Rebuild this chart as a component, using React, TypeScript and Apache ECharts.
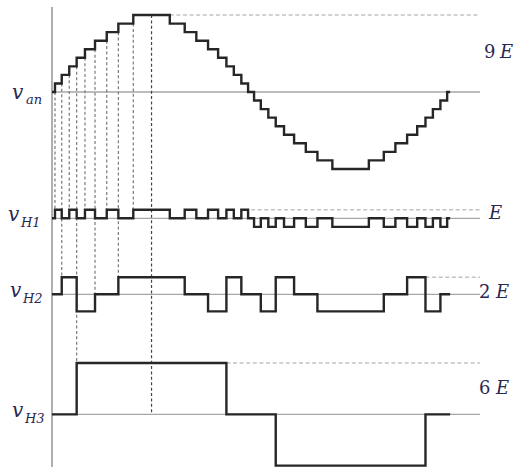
import React, { useEffect, useRef } from "react";
import * as echarts from "echarts";

// Switching angles (degrees) of the 19-level staircase over one fundamental period
const switchAngles = [
  2.7, 8.8, 15.6, 22.3, 29.8, 38.9, 49.5, 60.0, 73.5,
  106.5, 120.0, 130.5, 141.1, 150.2, 157.7, 164.4, 171.2, 177.3,
  182.7, 188.8, 195.6, 202.3, 209.8, 218.9, 229.5, 240.0, 253.5,
  286.5, 300.0, 310.5, 321.1, 330.2, 337.7, 344.4, 351.2, 357.3,
];

// Output levels (in units of E) held between successive switching angles
const vanLevels = [
  0, 1, 2, 3, 4, 5, 6, 7, 8, 9, 8, 7, 6, 5, 4, 3, 2, 1, 0,
  -1, -2, -3, -4, -5, -6, -7, -8, -9, -8, -7, -6, -5, -4, -3, -2, -1, 0,
];
const h1Levels = [
  0, 1, 0, 1, 0, 1, 0, 1, 0, 1, 0, 1, 0, 1, 0, 1, 0, 1, 0,
  -1, 0, -1, 0, -1, 0, -1, 0, -1, 0, -1, 0, -1, 0, -1, 0, -1, 0,
];
const h2Levels = [
  0, 0, 2, 2, -2, -2, 0, 0, 2, 2, 2, 0, 0, -2, -2, 2, 2, 0, 0,
  0, -2, -2, 2, 2, 0, 0, -2, -2, -2, 0, 0, 2, 2, -2, -2, 0, 0,
];
const h3Levels = [
  0, 0, 0, 0, 6, 6, 6, 6, 6, 6, 6, 6, 6, 6, 6, 0, 0, 0, 0,
  0, 0, 0, -6, -6, -6, -6, -6, -6, -6, -6, -6, -6, -6, 0, 0, 0, 0,
];

// Projection guides: angle, level on v_an where it starts, trace and level where it stops
const guideAngles = [2.7, 8.8, 15.6, 22.3, 29.8, 38.9, 49.5, 60.0, 73.5, 90];
const guideFromLevel = [0, 1, 2, 3, 4, 5, 6, 7, 8, 9];
const guideToTrace = ["h1", "h2", "h1", "h3", "h1", "h2", "h1", "h2", "h1", "h3"];
const guideToLevel = [1, 2, 1, 6, 1, 0, 1, 2, 1, 0];

// Peak-level markers: where each dashed peak line begins, and its level
const peakTraces = ["van", "h1", "h2", "h3"];
const peakStart = [106.5, 180, 337.7, 157.7];
const peakLevel = [9, 1, 2, 6];

// Layout: vertical offset (in E) of each trace's zero line
const BASE: Record<string, number> = { van: 0, h1: -14.77, h2: -23.66, h3: -37.7 };
const Y_MAX = 9.94;
const Y_MIN = -43.86;
const X_END = 387;

const INK = "#262626";
const LABEL = "#2a2852";
const SERIF = "'DejaVu Serif', 'Liberation Serif', serif";

function stepPoints(levels: number[], base: number): number[][] {
  const pts: number[][] = [[0, base + levels[0]]];
  switchAngles.forEach((a, i) => {
    if (levels[i] !== levels[i + 1]) {
      pts.push([a, base + levels[i]]);
      pts.push([a, base + levels[i + 1]]);
    }
  });
  pts.push([360, base + levels[levels.length - 1]]);
  return pts;
}

function seg(data: number[][], color: string, width: number, type: any, z: number) {
  return {
    type: "line",
    data,
    symbol: "none",
    silent: true,
    clip: false,
    z,
    lineStyle: { color, width, type, cap: "butt" },
  };
}

function sym(text: string, x: number, y: number, size: number, italic: boolean) {
  return {
    type: "text",
    x,
    y,
    silent: true,
    style: {
      text,
      fill: LABEL,
      font: `${italic ? "italic " : ""}${size}px ${SERIF}`,
      textAlign: "left",
      textVerticalAlign: "middle",
      verticalAlign: "middle",
    },
  };
}

export default function App() {
  const ref = useRef<HTMLDivElement>(null);

  useEffect(() => {
    if (!ref.current) return;
    const chart = echarts.init(ref.current, undefined, { renderer: "svg" });

    const series: any[] = [];

    // vertical axis
    series.push(seg([[0, Y_MAX], [0, Y_MIN]], "#9c9c9c", 1.6, "solid", 1));

    // zero lines
    for (const k of ["van", "h1", "h2", "h3"]) {
      series.push(seg([[0, BASE[k]], [X_END, BASE[k]]], "#a6a6a6", 1.3, "solid", 1));
    }

    // dashed peak-level lines
    peakTraces.forEach((k, i) => {
      const y = BASE[k] + peakLevel[i];
      series.push(seg([[peakStart[i], y], [X_END, y]], "#c2c2c2", 1.6, [4, 2.6], 2));
    });

    // projection guides
    guideAngles.forEach((a, i) => {
      const y0 = BASE.van + guideFromLevel[i];
      const y1 = BASE[guideToTrace[i]] + guideToLevel[i];
      const centre = a === 90;
      series.push(seg([[a, y0], [a, y1]], centre ? "#444" : "#7a7a7a", 1.2, [3, 2.4], 3));
    });

    // waveforms
    const traces: [number[], number][] = [
      [vanLevels, BASE.van],
      [h1Levels, BASE.h1],
      [h2Levels, BASE.h2],
      [h3Levels, BASE.h3],
    ];
    for (const [lv, b] of traces) {
      const s: any = seg(stepPoints(lv, b), INK, 2.4, "solid", 5);
      s.lineStyle.join = "miter";
      series.push(s);
    }

    chart.setOption({
      animation: false,
      backgroundColor: "#ffffff",
      grid: { left: 52, top: 7, width: 428, height: 460 },
      xAxis: { type: "value", min: 0, max: X_END, show: false },
      yAxis: { type: "value", min: Y_MIN, max: Y_MAX, show: false },
      series,
      graphic: [
        sym("v", 12, 92, 20, true),
        sym("an", 26, 99, 13, true),
        sym("v", 8, 214, 20, true),
        sym("H1", 21, 222, 13, true),
        sym("v", 10, 290, 20, true),
        sym("H2", 23, 298, 13, true),
        sym("v", 12, 410, 20, true),
        sym("H3", 25, 418, 13, true),
        sym("9", 484, 51.5, 18, false),
        sym("E", 500, 51.5, 18, true),
        sym("E", 489, 212, 18, true),
        sym("2", 479, 291, 18, false),
        sym("E", 496, 291, 18, true),
        sym("6", 479, 387, 18, false),
        sym("E", 496, 387, 18, true),
      ],
    });

    return () => chart.dispose();
  }, []);

  return (
    <div
      ref={ref}
      style={{ position: "absolute", left: 0, top: 0, width: 522, height: 468, background: "#fff" }}
    />
  );
}
